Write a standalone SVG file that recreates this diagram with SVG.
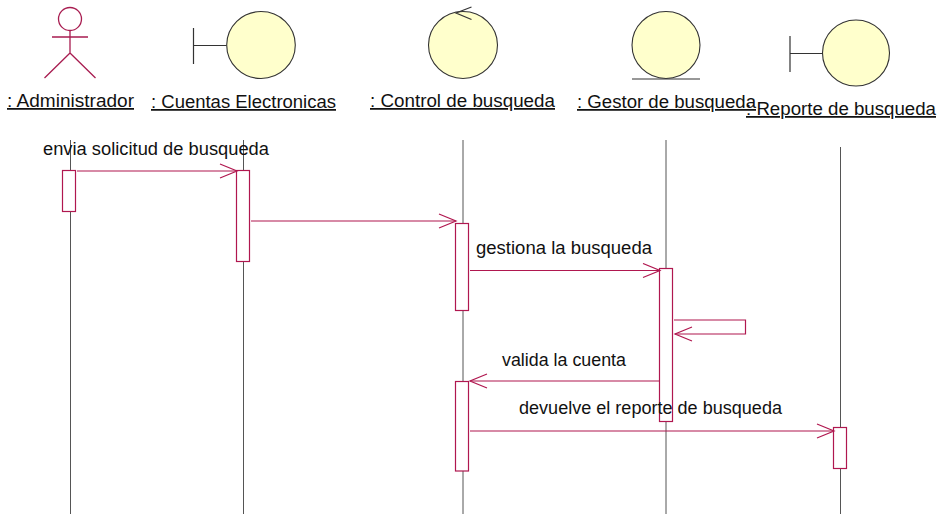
<svg xmlns="http://www.w3.org/2000/svg" width="942" height="514" viewBox="0 0 942 514">
<style>
text{font-family:"Liberation Sans",Arial,sans-serif;font-size:17.500px;fill:#111}
.u{text-decoration:underline}
.life{stroke:#555;stroke-width:1;fill:none}
.act{stroke:#b0174f;stroke-width:1.2;fill:#fff}
.msg{stroke:#b0174f;stroke-width:1.2;fill:none}
.ball{fill:#ffffcc;stroke:#333;stroke-width:1.1}
.bar{stroke:#333;stroke-width:1.2;fill:none}
.actor{stroke:#a81c50;stroke-width:1.3;fill:none}
</style>
<defs>
<marker id="open" markerUnits="userSpaceOnUse" markerWidth="20" markerHeight="18" refX="18" refY="8" orient="auto"><path d="M1 1L18 8L1 15" fill="none" stroke="#b0174f" stroke-width="1.2"/></marker>
</defs>
<g id="lifelines">
<path class="life" d="M70.500 140V514"/>
<path class="life" d="M243.500 140V514"/>
<path class="life" d="M463 140V514"/>
<path class="life" d="M666 140V514"/>
<path class="life" d="M840.500 147V514"/>
</g>
<g id="n-administrador">
<circle class="actor" cx="70" cy="19" r="11.500"/>
<path class="actor" d="M70 31V53M52 37H88M70 53L44.500 78M70 53L95.500 78"/>
<text class="u" x="7" y="107" textLength="127" lengthAdjust="spacingAndGlyphs">: Administrador</text>
</g>
<g id="n-cuentas">
<ellipse class="ball" cx="261" cy="45" rx="34.300" ry="33.500"/>
<path class="bar" d="M193.500 28V64M193.500 45.500H226.500"/>
<text class="u" x="151" y="108" textLength="185" lengthAdjust="spacingAndGlyphs">: Cuentas Electronicas</text>
</g>
<g id="n-control">
<ellipse class="ball" cx="463" cy="45" rx="34.500" ry="33.500"/>
<path class="bar" d="M471.500 7L456 13L471.500 19.500"/>
<text class="u" x="370" y="107" textLength="185" lengthAdjust="spacingAndGlyphs">: Control de busqueda</text>
</g>
<g id="n-gestor">
<ellipse class="ball" cx="666" cy="45" rx="34" ry="33.500"/>
<path class="bar" d="M632 79H700"/>
<text class="u" x="577" y="108" textLength="179" lengthAdjust="spacingAndGlyphs">: Gestor de busqueda</text>
</g>
<g id="n-reporte">
<ellipse class="ball" cx="856" cy="53" rx="33.500" ry="33"/>
<path class="bar" d="M790 36V72M790 53.500H822.500"/>
<text class="u" x="746" y="115" textLength="190" lengthAdjust="spacingAndGlyphs">: Reporte de busqueda</text>
</g>
<g id="activations">
<rect class="act" x="62.500" y="170.500" width="13" height="41"/>
<rect class="act" x="236.500" y="170.500" width="13" height="91"/>
<rect class="act" x="455.500" y="223.500" width="13" height="87"/>
<rect class="act" x="659.500" y="268.500" width="13" height="153"/>
<rect class="act" x="455.500" y="381.500" width="13" height="89.500"/>
<rect class="act" x="833.500" y="427.500" width="13" height="41"/>
</g>
<g id="connectors">
<path class="msg" marker-end="url(#open)" d="M77 171H237"/>
<path class="msg" marker-end="url(#open)" d="M251 221H456"/>
<path class="msg" marker-end="url(#open)" d="M470 270.500H660"/>
<path class="msg" marker-end="url(#open)" d="M674 320H745.500V334H675"/>
<path class="msg" marker-end="url(#open)" d="M660 381H470"/>
<path class="msg" marker-end="url(#open)" d="M470 431H834"/>
</g>
<g id="labels">
<text x="43" y="155" textLength="226" lengthAdjust="spacingAndGlyphs">envia solicitud de busqueda</text>
<text x="476" y="254" textLength="176" lengthAdjust="spacingAndGlyphs">gestiona la busqueda</text>
<text x="502" y="366" textLength="124" lengthAdjust="spacingAndGlyphs">valida la cuenta</text>
<text x="519" y="414" textLength="263" lengthAdjust="spacingAndGlyphs">devuelve el reporte de busqueda</text>
</g>
</svg>
